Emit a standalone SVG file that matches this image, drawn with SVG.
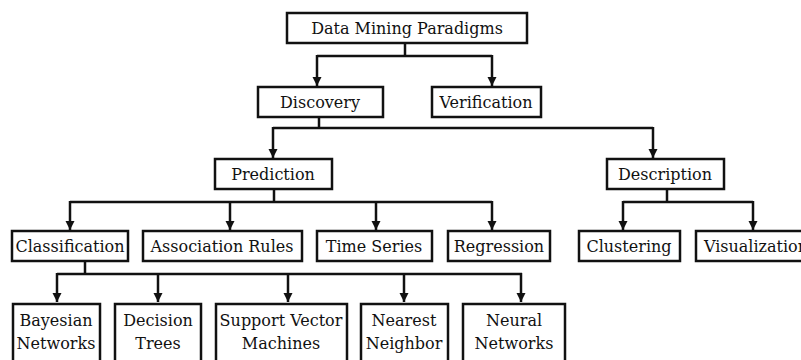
<svg xmlns="http://www.w3.org/2000/svg" width="801" height="360" viewBox="0 0 801 360">
<style>
.box{fill:#fff;stroke:#111;stroke-width:2.5}
.lbl{font-family:"DejaVu Serif","Liberation Serif",serif;font-size:16px;fill:#111;text-anchor:middle}
.con{fill:none;stroke:#111;stroke-width:2.5}
</style>
<defs>
<marker id="ah" viewBox="0 0 10 10" refX="10" refY="5" markerWidth="9" markerHeight="10" markerUnits="userSpaceOnUse" orient="auto">
<path d="M0,0 L10,5 L0,10 z" fill="#111"/>
</marker>
</defs>
<rect width="801" height="360" fill="#fff"/>
<g id="connectors">
<polyline class="con" points="405,43 405,56"/>
<polyline class="con" points="317,56 492,56"/>
<line class="con" x1="317" y1="55" x2="317" y2="86" marker-end="url(#ah)"/>
<line class="con" x1="492" y1="55" x2="492" y2="86" marker-end="url(#ah)"/>
<polyline class="con" points="319,117 319,128"/>
<polyline class="con" points="273,128 653,128"/>
<line class="con" x1="273" y1="127" x2="273" y2="158" marker-end="url(#ah)"/>
<line class="con" x1="653" y1="127" x2="653" y2="158" marker-end="url(#ah)"/>
<polyline class="con" points="274,189 274,202"/>
<polyline class="con" points="70,202 492,202"/>
<line class="con" x1="70" y1="201" x2="70" y2="230" marker-end="url(#ah)"/>
<line class="con" x1="230" y1="201" x2="230" y2="230" marker-end="url(#ah)"/>
<line class="con" x1="376" y1="201" x2="376" y2="230" marker-end="url(#ah)"/>
<line class="con" x1="492" y1="201" x2="492" y2="230" marker-end="url(#ah)"/>
<polyline class="con" points="667,189 667,202"/>
<polyline class="con" points="623,202 753,202"/>
<line class="con" x1="623" y1="201" x2="623" y2="230" marker-end="url(#ah)"/>
<line class="con" x1="753" y1="201" x2="753" y2="230" marker-end="url(#ah)"/>
<polyline class="con" points="85,261 85,274"/>
<polyline class="con" points="57,274 522,274"/>
<line class="con" x1="57" y1="273" x2="57" y2="302" marker-end="url(#ah)"/>
<line class="con" x1="158" y1="273" x2="158" y2="302" marker-end="url(#ah)"/>
<line class="con" x1="288" y1="273" x2="288" y2="302" marker-end="url(#ah)"/>
<line class="con" x1="404" y1="273" x2="404" y2="302" marker-end="url(#ah)"/>
<line class="con" x1="521" y1="273" x2="521" y2="302" marker-end="url(#ah)"/>
</g>
<g id="n-root"><rect class="box" x="287" y="13" width="240" height="30"/><text class="lbl" x="407" y="34">Data Mining Paradigms</text></g>
<g id="n-discovery"><rect class="box" x="258" y="87" width="125" height="30"/><text class="lbl" x="320" y="108">Discovery</text></g>
<g id="n-verification"><rect class="box" x="432" y="87" width="109" height="30"/><text class="lbl" x="486" y="108">Verification</text></g>
<g id="n-prediction"><rect class="box" x="215" y="159" width="117" height="30"/><text class="lbl" x="273" y="180">Prediction</text></g>
<g id="n-description"><rect class="box" x="607" y="159" width="117" height="30"/><text class="lbl" x="665" y="180">Description</text></g>
<g id="n-classification"><rect class="box" x="12" y="231" width="116" height="30"/><text class="lbl" x="70" y="252">Classification</text></g>
<g id="n-association"><rect class="box" x="143" y="231" width="159" height="30"/><text class="lbl" x="222" y="252">Association Rules</text></g>
<g id="n-timeseries"><rect class="box" x="317" y="231" width="115" height="30"/><text class="lbl" x="374" y="252">Time Series</text></g>
<g id="n-regression"><rect class="box" x="448" y="231" width="102" height="30"/><text class="lbl" x="499" y="252">Regression</text></g>
<g id="n-clustering"><rect class="box" x="579" y="231" width="101" height="30"/><text class="lbl" x="629" y="252">Clustering</text></g>
<g id="n-visualization"><rect class="box" x="696" y="231" width="118" height="30"/><text class="lbl" x="756" y="252">Visualization</text></g>
<g id="n-bayesian"><rect class="box" x="13" y="304" width="87" height="70"/><text class="lbl" x="56" y="326">Bayesian</text><text class="lbl" x="56" y="349">Networks</text></g>
<g id="n-decision"><rect class="box" x="115" y="304" width="86" height="70"/><text class="lbl" x="158" y="326">Decision</text><text class="lbl" x="158" y="349">Trees</text></g>
<g id="n-svm"><rect class="box" x="216" y="304" width="131" height="70"/><text class="lbl" x="281" y="326">Support Vector</text><text class="lbl" x="281" y="349">Machines</text></g>
<g id="n-nearest"><rect class="box" x="361" y="304" width="87" height="70"/><text class="lbl" x="404" y="326">Nearest</text><text class="lbl" x="404" y="349">Neighbor</text></g>
<g id="n-neural"><rect class="box" x="463" y="304" width="102" height="70"/><text class="lbl" x="514" y="326">Neural</text><text class="lbl" x="514" y="349">Networks</text></g>
</svg>
